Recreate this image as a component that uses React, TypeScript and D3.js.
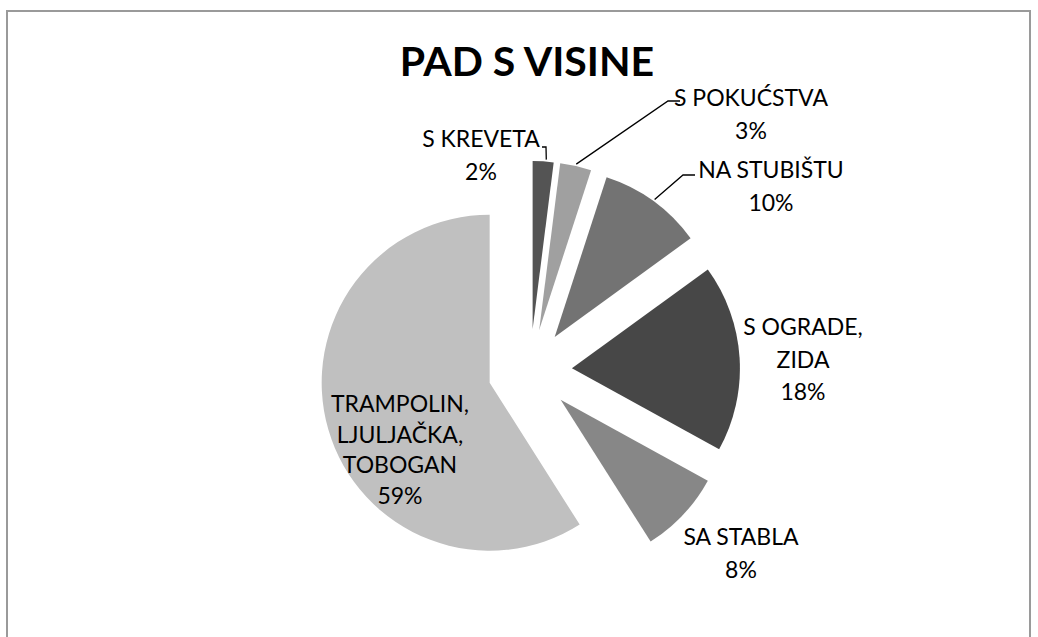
import React from 'react';
import * as d3 from 'd3';

// podaci
const title = 'PAD S VISINE';
const categories = [
  'S KREVETA',
  'S POKUĆSTVA',
  'NA STUBIŠTU',
  'S OGRADE, ZIDA',
  'SA STABLA',
  'TRAMPOLIN, LJULJAČKA, TOBOGAN'
];
const labelLines = [
  ['S KREVETA'],
  ['S POKUĆSTVA'],
  ['NA STUBIŠTU'],
  ['S OGRADE,', 'ZIDA'],
  ['SA STABLA'],
  ['TRAMPOLIN,', 'LJULJAČKA,', 'TOBOGAN']
];
const percents = [2, 3, 10, 18, 8, 59];

// izgled
const sliceColors = ['#545454', '#a0a0a0', '#737373', '#474747', '#878787', '#c0c0c0'];
const labelOffsets: [number, number][] = [
  [-49, -224], [221, -265], [241, -193], [273, -36], [211, 174], [-130, 41]
];
// točke linije od oznake + položaj kraja na luku (udio kuta kriške)
const leaderOffsets: ([number, number][] | null)[] = [
  [[12, -224], [16, -224]],
  [[150, -270], [138, -270]],
  [[165, -196], [153, -196]],
  null, null, null
];
const leaderAt = [0.64, 0.5, 0.5, 0.5, 0.5, 0.5];

const App: React.FC = () => {
  const svgRef = React.useRef<SVGSVGElement>(null);
  const width = 1038;
  const height = 637;

  React.useEffect(() => {
    if (!svgRef.current) return;
    const svg = d3.select(svgRef.current);
    svg.selectAll('*').remove();

    const cx = 530;
    const cy = 371;
    const radius = 168;
    const explode = 42;
    const font = 'Lato, "Open Sans", sans-serif';

    // okvir
    svg.append('rect')
      .attr('x', 7).attr('y', 11)
      .attr('width', 1023).attr('height', 700)
      .attr('fill', '#fff')
      .attr('stroke', '#9a9a9a')
      .attr('stroke-width', 2);

    // naslov
    svg.append('text')
      .attr('x', 527).attr('y', 76)
      .attr('text-anchor', 'middle')
      .attr('font-family', font)
      .attr('font-weight', 'bold')
      .attr('font-size', '41px')
      .attr('fill', '#000')
      .text(title);

    const data = categories.map((c, i) => ({ name: c, value: percents[i], idx: i }));
    const pie = d3.pie<typeof data[0]>()
      .sort(null)
      .value(d => d.value)
      .startAngle(0)
      .endAngle(2 * Math.PI);
    const arcs = pie(data);
    const arc = d3.arc<d3.PieArcDatum<typeof data[0]>>()
      .innerRadius(0)
      .outerRadius(radius);

    const g = svg.append('g').attr('transform', `translate(${cx},${cy})`);

    arcs.forEach(a => {
      const mid = (a.startAngle + a.endAngle) / 2;
      const dx = explode * Math.sin(mid);
      const dy = -explode * Math.cos(mid);
      g.append('path')
        .attr('d', arc(a) || '')
        .attr('transform', `translate(${dx},${dy})`)
        .attr('fill', sliceColors[a.data.idx]);

      // linije do oznaka
      const lead = leaderOffsets[a.data.idx];
      if (lead) {
        const ang = a.startAngle + leaderAt[a.data.idx] * (a.endAngle - a.startAngle);
        const end: [number, number] = [
          dx + (radius + 2) * Math.sin(ang),
          dy - (radius + 2) * Math.cos(ang)
        ];
        g.append('path')
          .attr('d', d3.line()([...lead, end]) || '')
          .attr('fill', 'none')
          .attr('stroke', '#000')
          .attr('stroke-width', 1.3);
      }

      // oznake
      const [lx, ly] = labelOffsets[a.data.idx];
      const lines = [...labelLines[a.data.idx], `${a.data.value}%`];
      const lh = a.data.idx === 5 ? 30.5 : 32.5;
      const t = g.append('text')
        .attr('text-anchor', 'middle')
        .attr('font-family', font)
        .attr('font-size', '23px')
        .attr('fill', '#000');
      lines.forEach((ln, j) => {
        t.append('tspan')
          .attr('x', lx)
          .attr('y', ly + j * lh)
          .text(ln);
      });
    });
  }, []);

  return (
    <svg
      ref={svgRef}
      width={width}
      height={height}
      style={{ position: 'absolute', left: 0, top: 0, background: '#fff' }}
    />
  );
};

export default App;
